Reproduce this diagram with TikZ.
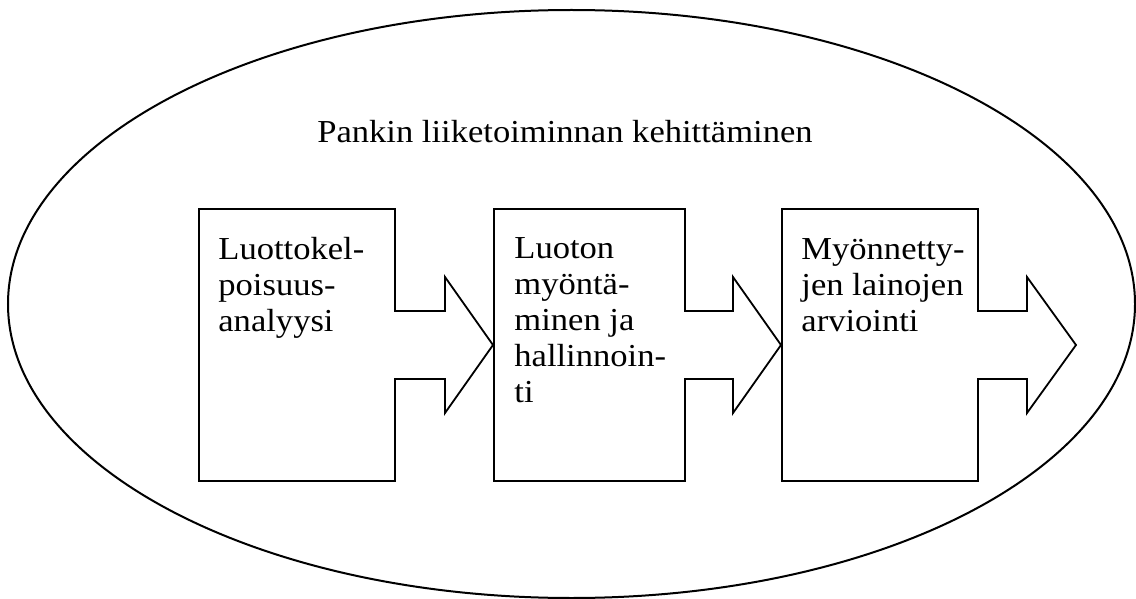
\documentclass[tikz,border=0pt]{standalone}
\usepackage{fontspec}
\setmainfont{Liberation Serif}[FakeStretch=1.08]
\usetikzlibrary{shapes.geometric}
\tikzset{
  boxline/.style={draw=black, line width=0.9pt, line join=miter},
  lbl/.style={inner sep=0pt, align=left, font=\fontsize{16}{18}\selectfont},
  outerell/.style={ellipse, draw=black, line width=1pt, inner sep=0pt}
}
\begin{document}
\begin{tikzpicture}[x=0.5pt, y=-0.5pt]
\useasboundingbox (0,0) rectangle (1136,599);
\node[outerell, minimum width=563.5pt, minimum height=294pt] (outer) at (571.5,304) {};
\node[lbl, anchor=base] (title) at (565,143) {Pankin liiketoiminnan kehittäminen};
\foreach \L/\R/\B/\T in {199/395/445/493, 494/685/733/781, 782/978/1027/1076} {
  \draw[boxline] (\L,209) -- (\R,209) -- (\R,311) -- (\B,311) -- (\B,277) -- (\T,345)
    -- (\B,413) -- (\B,379) -- (\R,379) -- (\R,481) -- (\L,481) -- cycle;
}
\node[lbl, anchor=north west] (t1) at (218,237) {Luottokel-\\poisuus-\\analyysi};
\node[lbl, anchor=north west] (t2) at (514,237) {Luoton\\myöntä-\\minen ja\\hallinnoin-\\ti};
\node[lbl, anchor=north west] (t3) at (801,238) {Myönnetty-\\jen lainojen\\arviointi};
\end{tikzpicture}
\end{document}
